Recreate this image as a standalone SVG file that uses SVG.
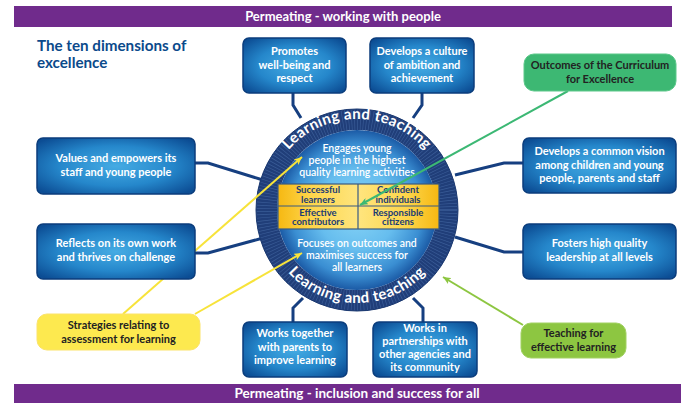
<svg xmlns="http://www.w3.org/2000/svg" width="681" height="403" viewBox="0 0 681 403">
<defs>
<style>
.bar{fill:#702b8c}
.bartxt{font-family:Lato,"Liberation Sans",sans-serif;font-weight:700;font-size:13px;fill:#fff;text-anchor:middle}
.bartxt2{font-family:Lato,"Liberation Sans",sans-serif;font-weight:700;font-size:13.5px;fill:#fff;text-anchor:middle}
.title{font-family:Lato,"Liberation Sans",sans-serif;font-weight:700;font-size:15.2px;fill:#0b4a8b}
.box{fill:url(#boxGrad);stroke:#0b3d7c;stroke-width:1.5}
.btxt{font-family:Lato,"Liberation Sans",sans-serif;font-weight:700;font-size:11px;fill:#fff;text-anchor:middle}
.ctxt{font-family:Lato,"Liberation Sans",sans-serif;font-weight:700;font-size:11px;fill:#222;text-anchor:middle}
.spoke{fill:none;stroke:#163f80;stroke-width:3;stroke-linejoin:miter}
.dtxt{font-family:Lato,"Liberation Sans",sans-serif;font-weight:600;font-size:10.5px;fill:#fff;text-anchor:middle}
.gtxt{font-family:Lato,"Liberation Sans",sans-serif;font-weight:700;font-size:9.5px;fill:#1b3c74;text-anchor:middle}
.rtxt{font-family:Lato,"Liberation Sans",sans-serif;font-weight:700;font-size:15px;fill:#fff;letter-spacing:0.4px}
</style>
<radialGradient id="boxGrad" cx="50%" cy="50%" r="65%">
<stop offset="0" stop-color="#45abe3"/>
<stop offset="0.55" stop-color="#2587cb"/>
<stop offset="1" stop-color="#0c4d94"/>
</radialGradient>
<radialGradient id="diskGrad" cx="50%" cy="50%" r="50%">
<stop offset="0" stop-color="#8ad6f7"/>
<stop offset="0.5" stop-color="#66bdee"/>
<stop offset="0.82" stop-color="#3a8ed2"/>
<stop offset="1" stop-color="#1b5aa5"/>
</radialGradient>
<linearGradient id="gridGrad" x1="0" y1="0" x2="1" y2="0">
<stop offset="0" stop-color="#f6b812"/>
<stop offset="0.2" stop-color="#fdd54a"/>
<stop offset="0.5" stop-color="#ffe57e"/>
<stop offset="0.8" stop-color="#fdd54a"/>
<stop offset="1" stop-color="#f6b812"/>
</linearGradient>
<marker id="arrY" markerUnits="userSpaceOnUse" markerWidth="9" markerHeight="7" refX="8" refY="3.5" orient="auto"><path d="M0,0 L8,3.5 L0,7 L2,3.5 z" fill="#f7e33a"/></marker>
<marker id="arrG" markerUnits="userSpaceOnUse" markerWidth="9" markerHeight="7" refX="8" refY="3.5" orient="auto"><path d="M0,0 L8,3.5 L0,7 L2,3.5 z" fill="#3cb874"/></marker>
<marker id="arrL" markerUnits="userSpaceOnUse" markerWidth="9" markerHeight="7" refX="8" refY="3.5" orient="auto"><path d="M0,0 L8,3.5 L0,7 L2,3.5 z" fill="#8dc641"/></marker>
<path id="arcTop" d="M266,210 A91,91 0 0 1 448,210"/>
<path id="arcBot" d="M264,210 A93,93 0 0 0 450,210"/>
</defs>

<rect width="681" height="403" fill="#fff"/>

<g id="bar-top">
<rect class="bar" x="14" y="6" width="658" height="21"/>
<text class="bartxt" x="343" y="21">Permeating - working with people</text>
</g>
<g id="bar-bottom">
<rect class="bar" x="14" y="384" width="667" height="19"/>
<text class="bartxt2" x="357" y="398">Permeating - inclusion and success for all</text>
</g>

<g id="title">
<text class="title" x="37" y="50.5">The ten dimensions of</text>
<text class="title" x="37" y="67.5">excellence</text>
</g>

<g id="connectors">
<polyline class="spoke" points="293,92 293,105 301,118"/>
<polyline class="spoke" points="422,92 422,105 413,118"/>
<polyline class="spoke" points="194,163 208,163 263,180"/>
<polyline class="spoke" points="194,253 208,253 263,238"/>
<polyline class="spoke" points="524,163 504,163 455,175"/>
<polyline class="spoke" points="524,252 504,252 455,237"/>
<polyline class="spoke" points="293,323 293,308 303,298"/>
<polyline class="spoke" points="423,323 423,308 413,298"/>
</g>

<g id="hub">
<circle cx="357" cy="210" r="90.5" fill="none" stroke="#203e79" stroke-width="21"/>
<circle cx="357" cy="210" r="90.5" fill="none" stroke="#3a5c97" stroke-width="21" stroke-dasharray="0.7 2.3"/>
<circle cx="357" cy="210" r="101" fill="none" stroke="#1a3870" stroke-width="1"/>
<circle cx="357" cy="210" r="80" fill="url(#diskGrad)"/>
<text class="rtxt"><textPath href="#arcTop" startOffset="50%" text-anchor="middle">Learning and teaching</textPath></text>
<text class="rtxt"><textPath href="#arcBot" startOffset="50%" text-anchor="middle">Learning and teaching</textPath></text>
<text class="dtxt" x="357" y="152">Engages young</text>
<text class="dtxt" x="357" y="164">people in the highest</text>
<text class="dtxt" x="357" y="176">quality learning activities</text>
<rect x="278" y="184" width="161" height="45" fill="url(#gridGrad)" stroke="#3a5a80" stroke-width="1.2"/>
<line x1="358" y1="184" x2="358" y2="229" stroke="#3a5a80" stroke-width="1.2"/>
<line x1="278" y1="206" x2="439" y2="206" stroke="#3a5a80" stroke-width="1.2"/>
<text class="gtxt" x="318" y="193">Successful</text>
<text class="gtxt" x="318" y="202.5">learners</text>
<text class="gtxt" x="398" y="193">Confident</text>
<text class="gtxt" x="398" y="202.5">individuals</text>
<text class="gtxt" x="318" y="215.5">Effective</text>
<text class="gtxt" x="318" y="225">contributors</text>
<text class="gtxt" x="398" y="215.5">Responsible</text>
<text class="gtxt" x="398" y="225">citizens</text>
<text class="dtxt" x="357" y="247">Focuses on outcomes and</text>
<text class="dtxt" x="357" y="259">maximises success for</text>
<text class="dtxt" x="357" y="271">all learners</text>
</g>

<g id="callout-lines">
<line x1="123" y1="314" x2="302" y2="157" stroke="#f7e33a" stroke-width="2" marker-end="url(#arrY)"/>
<line x1="195" y1="314" x2="302" y2="253" stroke="#f7e33a" stroke-width="2" marker-end="url(#arrY)"/>
<line x1="568" y1="91" x2="360" y2="205" stroke="#3cb874" stroke-width="2" marker-end="url(#arrG)"/>
<line x1="523" y1="325" x2="443" y2="277" stroke="#8dc641" stroke-width="2" marker-end="url(#arrL)"/>
</g>

<g id="node-promotes">
<rect class="box" x="243" y="38" width="103" height="55" rx="6"/>
<text class="btxt" x="294.5" y="55">Promotes</text>
<text class="btxt" x="294.5" y="68.5">well-being and</text>
<text class="btxt" x="294.5" y="82">respect</text>
</g>
<g id="node-culture">
<rect class="box" x="370" y="38" width="104" height="55" rx="6"/>
<text class="btxt" x="422" y="55">Develops a culture</text>
<text class="btxt" x="422" y="68.5">of ambition and</text>
<text class="btxt" x="422" y="82">achievement</text>
</g>
<g id="node-values">
<rect class="box" x="37" y="138" width="158" height="56" rx="6"/>
<text class="btxt" x="116" y="162">Values and empowers its</text>
<text class="btxt" x="116" y="176">staff and young people</text>
</g>
<g id="node-reflects">
<rect class="box" x="37" y="224" width="158" height="55" rx="6"/>
<text class="btxt" x="116" y="247">Reflects on its own work</text>
<text class="btxt" x="116" y="260.5">and thrives on challenge</text>
</g>
<g id="node-vision">
<rect class="box" x="523" y="138" width="153" height="55" rx="6"/>
<text class="btxt" x="599.5" y="155">Develops a common vision</text>
<text class="btxt" x="599.5" y="168.5">among children and young</text>
<text class="btxt" x="599.5" y="182">people, parents and staff</text>
</g>
<g id="node-leadership">
<rect class="box" x="523" y="224" width="153" height="55" rx="6"/>
<text class="btxt" x="599.5" y="247">Fosters high quality</text>
<text class="btxt" x="599.5" y="260.5">leadership at all levels</text>
</g>
<g id="node-parents">
<rect class="box" x="243" y="322" width="104" height="55" rx="6"/>
<text class="btxt" x="295" y="337">Works together</text>
<text class="btxt" x="295" y="350.5">with parents to</text>
<text class="btxt" x="295" y="364">improve learning</text>
</g>
<g id="node-partnerships">
<rect class="box" x="373" y="322" width="104" height="55" rx="6"/>
<text class="btxt" x="425" y="331.5">Works in</text>
<text class="btxt" x="425" y="344.5">partnerships with</text>
<text class="btxt" x="425" y="357.5">other agencies and</text>
<text class="btxt" x="425" y="370.5">its community</text>
</g>

<g id="callout-outcomes">
<rect x="524" y="54" width="152" height="37" rx="10" fill="#3db873" stroke="#5cc88a" stroke-width="1"/>
<text class="ctxt" x="600" y="68.5">Outcomes of the Curriculum</text>
<text class="ctxt" x="600" y="83">for Excellence</text>
</g>
<g id="callout-strategies">
<rect x="37" y="314" width="163" height="36" rx="10" fill="#fde94f" stroke="#fbe36a" stroke-width="1"/>
<text class="ctxt" x="118.5" y="329">Strategies relating to</text>
<text class="ctxt" x="118.5" y="343">assessment for learning</text>
</g>
<g id="callout-teaching">
<rect x="521" y="323" width="105" height="35" rx="10" fill="#8dc641" stroke="#a2d163" stroke-width="1"/>
<text class="ctxt" x="573.5" y="337">Teaching for</text>
<text class="ctxt" x="573.5" y="351">effective learning</text>
</g>
</svg>
